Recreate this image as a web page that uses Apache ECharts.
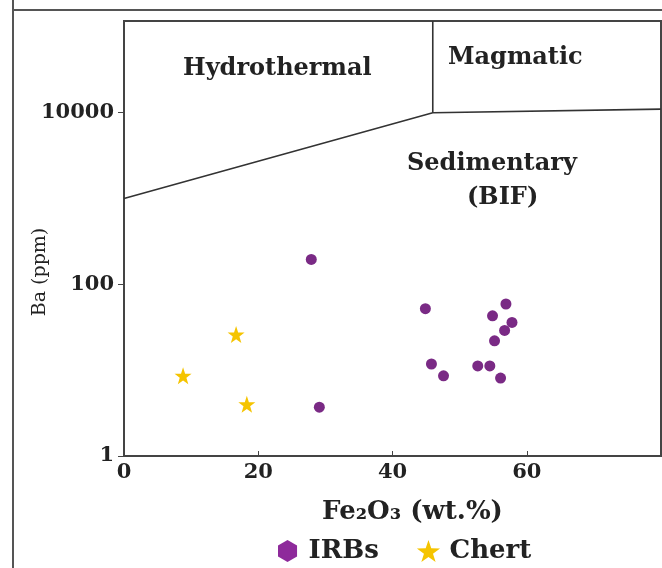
<!DOCTYPE html>
<html>
<head>
<meta charset="utf-8">
<script src="https://cdn.jsdelivr.net/npm/echarts@6/dist/echarts.min.js"></script>
<style>
html, body { margin: 0; padding: 0; background: #fff; }
#main { width: 662px; height: 568px; }
</style>
</head>
<body>
<div id="main"></div>
<script>
// 数据
var irbsFe = [27.9, 29.1, 44.9, 45.8, 47.6, 52.7, 54.5, 56.1, 55.2, 54.9, 56.9, 57.8, 56.7];
var irbsBa = [195, 3.7, 52, 11.8, 8.6, 11.2, 11.2, 8.1, 22, 43, 59, 36, 29];
var chertFe = [16.7, 8.8, 18.3];
var chertBa = [26, 8.6, 4.0];

// 分区边界线
var lowerBoundFe = [0, 46, 80];
var lowerBoundBa = [1000, 10000, 11000];
var upperBoundFe = [46, 46];
var upperBoundBa = [10000, 117000];

var xTicks = [0, 20, 40, 60];
var yTicks = [1, 100, 10000];

function pairs(xs, ys) {
    var out = [];
    for (var i = 0; i < xs.length; i++) out.push([xs[i], ys[i]]);
    return out;
}

var hexPath = 'path://M50,0 L93.3,25 L93.3,75 L50,100 L6.7,75 L6.7,25 Z';
var starPath = 'path://M50,0 L61.8,35.1 L98.9,35.5 L69.1,57.6 L80.2,93 L50,71.6 L19.8,93 L30.9,57.6 L1.1,35.5 L38.2,35.1 Z';

var serif = 'DejaVu Serif';
var regionFont = 'bold 24px "DejaVu Serif"';

var option = {
    backgroundColor: '#fff',
    animation: false,
    grid: {
        left: 124,
        right: 1,
        top: 21,
        bottom: 112,
        outerBoundsMode: 'none',
        containLabel: false,
        show: true,
        borderColor: '#444',
        borderWidth: 2
    },
    legend: {
        left: 273,
        top: 533,
        itemWidth: 26,
        itemHeight: 22,
        itemGap: 38,
        textStyle: {
            fontFamily: serif,
            fontWeight: 'bold',
            fontSize: 26,
            color: '#222',
            padding: [0, 0, 0, 3]
        },
        data: [
            { name: 'IRBs', icon: hexPath, itemStyle: { color: '#8e2a9b', opacity: 1 } },
            { name: 'Chert', icon: starPath, itemStyle: { color: '#f5c400', opacity: 1 } }
        ]
    },
    xAxis: {
        type: 'value',
        min: 0,
        max: 80,
        interval: 20,
        name: 'Fe₂O₃ (wt.%)',
        nameLocation: 'middle',
        nameGap: 43,
        nameTextStyle: {
            fontFamily: serif,
            fontWeight: 'bold',
            fontSize: 26,
            color: '#222',
            padding: [0, 0, 0, 40]
        },
        axisLine: { lineStyle: { color: '#444', width: 2 } },
        axisTick: { inside: true, length: 5, lineStyle: { color: '#444' }, customValues: xTicks },
        axisLabel: {
            customValues: xTicks,
            fontFamily: serif,
            fontWeight: 'bold',
            fontSize: 21,
            color: '#222',
            margin: 6
        },
        splitLine: { show: false }
    },
    yAxis: {
        type: 'log',
        logBase: 10,
        min: 1,
        max: 117000,
        axisLine: { lineStyle: { color: '#444', width: 2 } },
        axisTick: { inside: false, length: 6, lineStyle: { color: '#444' }, customValues: yTicks },
        axisLabel: {
            customValues: yTicks,
            formatter: function (v) { return String(Math.round(v)); },
            fontFamily: serif,
            fontWeight: 'bold',
            fontSize: 21,
            color: '#222',
            margin: 10
        },
        splitLine: { show: false },
        minorTick: { show: false }
    },
    graphic: [
        { type: 'line', shape: { x1: 13, y1: 0, x2: 13, y2: 568 }, style: { stroke: '#555', lineWidth: 2 } },
        { type: 'line', shape: { x1: 13, y1: 10, x2: 662, y2: 10 }, style: { stroke: '#555', lineWidth: 2 } },
        {
            type: 'text', x: 40, y: 272, rotation: Math.PI / 2,
            style: { text: 'Ba (ppm)', font: '19px "DejaVu Serif"', fill: '#222', align: 'center', verticalAlign: 'middle' }
        },
        { type: 'text', left: 183, top: 57, style: { text: 'Hydrothermal', font: regionFont, fill: '#222' } },
        { type: 'text', left: 448, top: 46, style: { text: 'Magmatic', font: regionFont, fill: '#222' } },
        { type: 'text', left: 407, top: 152, style: { text: 'Sedimentary', font: regionFont, fill: '#222' } },
        { type: 'text', left: 467, top: 186, style: { text: '(BIF)', font: regionFont, fill: '#222' } }
    ],
    series: [
        {
            name: 'lower',
            type: 'line',
            data: pairs(lowerBoundFe, lowerBoundBa),
            symbol: 'none',
            lineStyle: { color: '#333', width: 1.6 },
            silent: true,
            z: 1
        },
        {
            name: 'upper',
            type: 'line',
            data: pairs(upperBoundFe, upperBoundBa),
            symbol: 'none',
            lineStyle: { color: '#333', width: 1.6 },
            silent: true,
            z: 1
        },
        {
            name: 'IRBs',
            type: 'scatter',
            data: pairs(irbsFe, irbsBa),
            symbol: 'circle',
            symbolSize: 11,
            itemStyle: { color: '#7a2a85', opacity: 1 },
            z: 3
        },
        {
            name: 'Chert',
            type: 'scatter',
            data: pairs(chertFe, chertBa),
            symbol: starPath,
            symbolSize: 17,
            itemStyle: { color: '#f5c400', opacity: 1 },
            z: 3
        }
    ]
};

var chart = echarts.init(document.getElementById('main'));
chart.setOption(option);
</script>
</body>
</html>
